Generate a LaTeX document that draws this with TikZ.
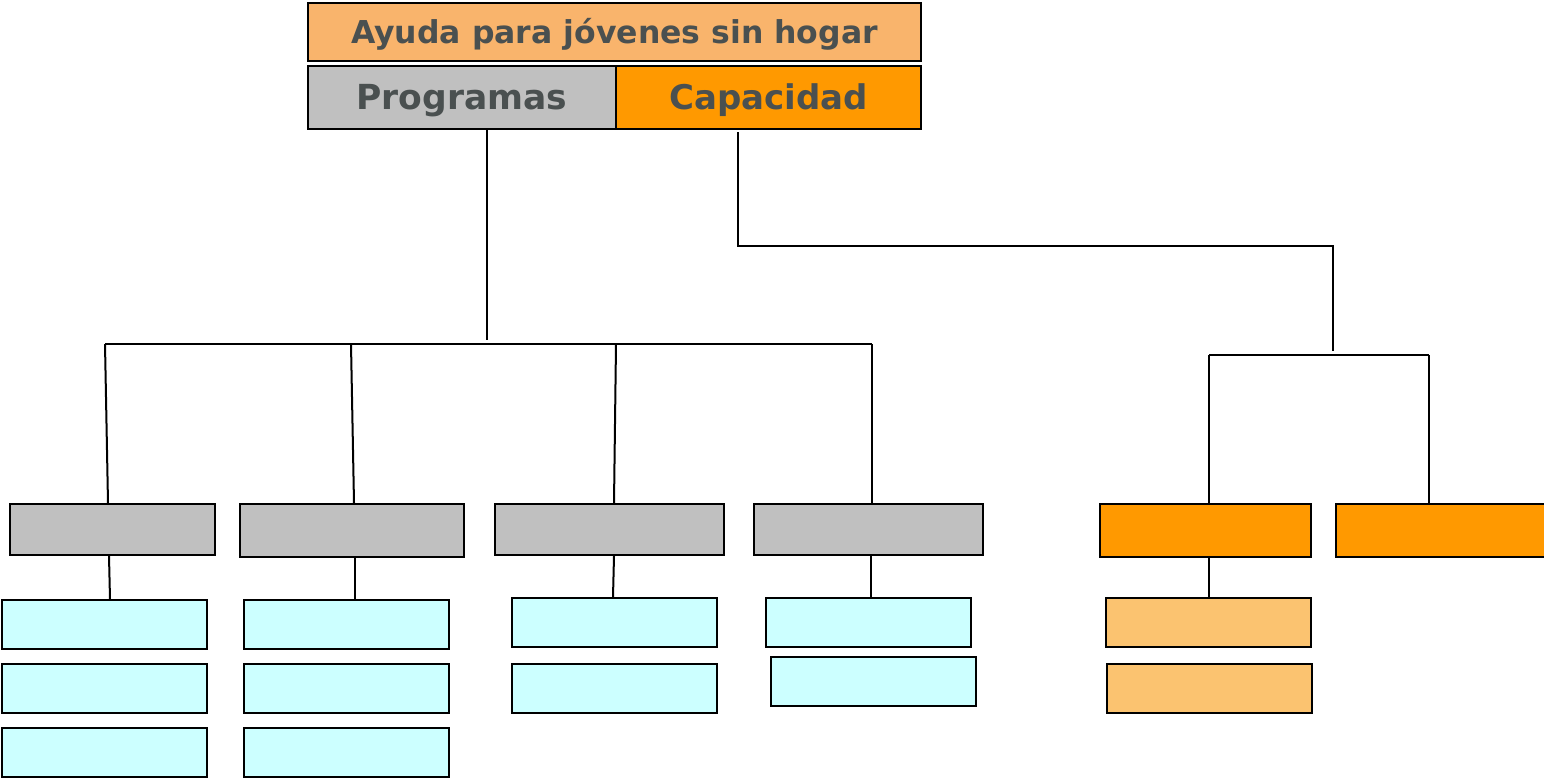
\documentclass[tikz,border=0pt]{standalone}
\usepackage{fontspec}
\setmainfont{DejaVu Sans}
\usetikzlibrary{calc}
\definecolor{titlefill}{HTML}{F9B46C}
\definecolor{grayfill}{HTML}{C0C0C0}
\definecolor{orangefill}{HTML}{FF9900}
\definecolor{cyanfill}{HTML}{CCFFFF}
\definecolor{lightorange}{HTML}{FBC370}
\definecolor{textgray}{HTML}{4A5050}
\tikzset{
  box/.style={draw=black, line width=2pt, inner sep=0pt, anchor=north west},
  conn/.style={draw=black, line width=2pt},
  lbl/.style={text=textgray, anchor=base}
}
\newcommand{\boxat}[6]{% name, fill, x1, y1, x2, y2
  \node[box, fill=#2, minimum width={(#5-#3)*1pt}, minimum height={(#6-#4)*1pt}] (#1) at (#3pt,-#4pt) {};}
\begin{document}
\begin{tikzpicture}[x=1pt,y=1pt]
\useasboundingbox (0,0) rectangle (1544,-779);
% top boxes
\boxat{title}{titlefill}{307}{2}{920}{60}
\boxat{prog}{grayfill}{307}{65}{615}{128}
\boxat{cap}{orangefill}{615}{65}{920}{128}
\node[lbl, font=\fontsize{31.5}{36}\selectfont\bfseries] at ($(title.center)+(0,-11)$) {Ayuda para jóvenes sin hogar};
\node[lbl, font=\fontsize{34.5}{40}\selectfont\bfseries] at ($(prog.center)+(0,-12)$) {Programas};
\node[lbl, font=\fontsize{34}{40}\selectfont\bfseries] at ($(cap.center)+(0,-12)$) {Capacidad};
% program columns
\boxat{g1}{grayfill}{9}{503}{214}{554}
\boxat{g2}{grayfill}{239}{503}{463}{556}
\boxat{g3}{grayfill}{494}{503}{723}{554}
\boxat{g4}{grayfill}{753}{503}{982}{554}
\boxat{c11}{cyanfill}{1}{599}{206}{648}
\boxat{c12}{cyanfill}{1}{663}{206}{712}
\boxat{c13}{cyanfill}{1}{727}{206}{776}
\boxat{c21}{cyanfill}{243}{599}{448}{648}
\boxat{c22}{cyanfill}{243}{663}{448}{712}
\boxat{c23}{cyanfill}{243}{727}{448}{776}
\boxat{c31}{cyanfill}{511}{597}{716}{646}
\boxat{c32}{cyanfill}{511}{663}{716}{712}
\boxat{c41}{cyanfill}{765}{597}{970}{646}
\boxat{c42}{cyanfill}{770}{656}{975}{705}
% capacity columns
\boxat{o1}{orangefill}{1099}{503}{1310}{556}
\boxat{o2}{orangefill}{1335}{503}{1552}{556}
\boxat{l1}{lightorange}{1105}{597}{1310}{646}
\boxat{l2}{lightorange}{1106}{663}{1311}{712}
% junction coordinates
\coordinate (pj) at (487,-340);
\coordinate (h1) at (105,-344);
\coordinate (h2) at (351,-344);
\coordinate (h3) at (616,-344);
\coordinate (h4) at (872,-344);
\coordinate (cj1) at (738,-132);
\coordinate (cj2) at (738,-246);
\coordinate (cj3) at (1333,-246);
\coordinate (cj4) at (1333,-351);
\coordinate (k1) at (1209,-355);
\coordinate (k2) at (1429,-355);
% connectors
\draw[conn] (prog.south -| pj) -- (pj);
\draw[conn] (h1) -- (h4);
\draw[conn] (h1) -- ($(g1.north west)+(99,0)$);
\draw[conn] (h2) -- ($(g2.north west)+(115,0)$);
\draw[conn] (h3) -- ($(g3.north west)+(120,0)$);
\draw[conn] (h4) -- ($(g4.north west)+(119,0)$);
\draw[conn] ($(g1.south west)+(100,0)$) -- ($(c11.north west)+(109,0)$);
\draw[conn] ($(g2.south west)+(116,0)$) -- ($(c21.north west)+(112,-2)$);
\draw[conn] ($(g3.south west)+(120,0)$) -- ($(c31.north west)+(102,0)$);
\draw[conn] ($(g4.south west)+(118,0)$) -- ($(c41.north west)+(106,0)$);
\draw[conn] (cj1) -- (cj2) -- (cj3) -- (cj4);
\draw[conn] (k1) -- (k2);
\draw[conn] (k1) -- (o1.north -| k1);
\draw[conn] (k2) -- (o2.north -| k2);
\draw[conn] (o1.south -| k1) -- (l1.north -| k1);
\end{tikzpicture}
\end{document}
